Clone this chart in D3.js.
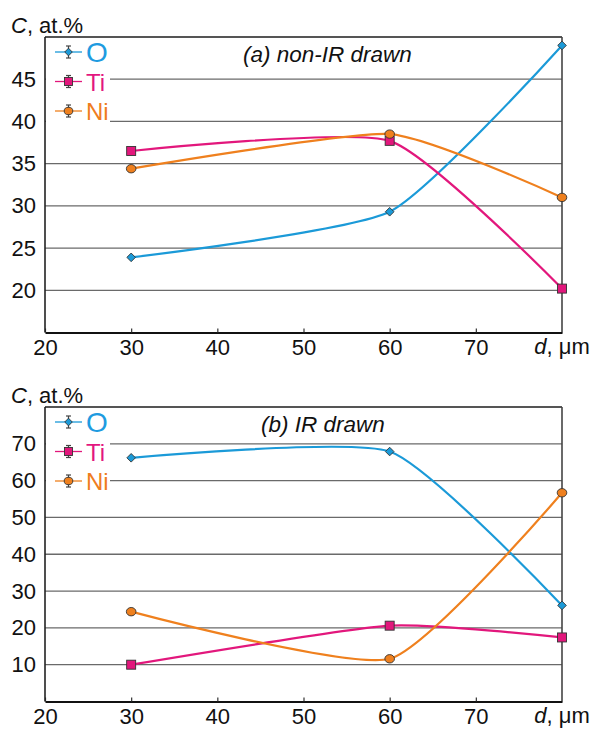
<!DOCTYPE html>
<html lang="en">
    <head>
        <meta charset="utf-8"/>
        <script src="https://d3js.org/d3.v7.min.js"></script>
        <style>
            body { margin: 0; background: #fff; }
            text { font-family: "Liberation Sans", Arial, sans-serif; }
        </style>
    </head>
    <body>
        <div id="chart"></div>
    </body>
    <script>
        // sample depths, d (um)
        var depths = [30, 60, 80];
        var xTicks = [20, 30, 40, 50, 60, 70];
        var seriesNames = ["O", "Ti", "Ni"];

        // (a) non-IR drawn, C at.%
        var oA  = [23.9, 29.3, 49.0];
        var tiA = [36.5, 37.7, 20.2];
        var niA = [34.4, 38.5, 31.0];
        var yTicksA = [20, 25, 30, 35, 40, 45];

        // (b) IR drawn, C at.%
        var oB  = [66.2, 67.9, 26.1];
        var tiB = [10.0, 20.6, 17.4];
        var niB = [24.4, 11.6, 56.7];
        var yTicksB = [10, 20, 30, 40, 50, 60, 70];

        var colors = { O: "#1b9ad8", Ti: "#e2177c", Ni: "#ef801e" };
        var labelColors = { O: "#1e9be0", Ti: "#e3177f", Ni: "#ef7d1e" };

        var W = 595, H = 729;
        var left = 45, right = 562;

        var svg = d3.select("#chart")
            .append("svg")
                .attr("width", W)
                .attr("height", H);

        var x = d3.scaleLinear()
            .domain([20, 80])
            .range([left, right]);

        function marker(g, name, cx, cy, s) {
            if (name === "O") {
                var h = s / 2 + 0.8;
                g.append("path")
                    .attr("d", "M" + cx + "," + (cy - h) + "L" + (cx + h) + "," + cy +
                               "L" + cx + "," + (cy + h) + "L" + (cx - h) + "," + cy + "Z")
                    .style("fill", colors.O)
                    .style("stroke", "#333")
                    .style("stroke-width", 0.9);
            } else if (name === "Ti") {
                g.append("rect")
                    .attr("x", cx - s / 2)
                    .attr("y", cy - s / 2)
                    .attr("width", s)
                    .attr("height", s)
                    .style("fill", colors.Ti)
                    .style("stroke", "#333")
                    .style("stroke-width", 0.9);
            } else {
                g.append("ellipse")
                    .attr("cx", cx)
                    .attr("cy", cy)
                    .attr("rx", s / 2 + 0.3)
                    .attr("ry", s / 2 - 0.3)
                    .style("fill", colors.Ni)
                    .style("stroke", "#333")
                    .style("stroke-width", 0.9);
            }
        }

        function drawPanel(top, bottom, yDomain, yTicks, series, title, titleX) {
            var y = d3.scaleLinear()
                .domain(yDomain)
                .range([bottom, top]);

            var g = svg.append("g");

            // gridlines
            g.selectAll(".grid")
                .data(yTicks)
                .enter()
                .append("line")
                    .attr("x1", left)
                    .attr("x2", right)
                    .attr("y1", function(d) { return y(d); })
                    .attr("y2", function(d) { return y(d); })
                    .style("stroke", "#6a6a6a")
                    .style("stroke-width", 1.3);

            // frame: top and right
            g.append("line")
                .attr("x1", left).attr("x2", right)
                .attr("y1", top).attr("y2", top)
                .style("stroke", "#555").style("stroke-width", 2);
            g.append("line")
                .attr("x1", right).attr("x2", right)
                .attr("y1", top).attr("y2", bottom)
                .style("stroke", "#444").style("stroke-width", 1.6);

            // y axis labels
            var yAxis = g.append("g")
                .attr("transform", "translate(" + left + ",0)")
                .call(d3.axisLeft(y).tickValues(yTicks).tickSize(0).tickPadding(9));
            yAxis.select(".domain").remove();
            yAxis.selectAll("text")
                .style("font-size", "22px")
                .style("font-family", "Liberation Sans, Arial, sans-serif")
                .style("fill", "#111");

            // x axis
            var xAxis = g.append("g")
                .attr("transform", "translate(0," + bottom + ")")
                .call(d3.axisBottom(x).tickValues(xTicks).tickSizeInner(-4).tickSizeOuter(0).tickPadding(6.5));
            xAxis.select(".domain").style("stroke", "#111").style("stroke-width", 1.8);
            xAxis.selectAll(".tick line").style("stroke", "#333").style("stroke-width", 1.2);
            xAxis.selectAll("text")
                .style("font-size", "22px")
                .style("font-family", "Liberation Sans, Arial, sans-serif")
                .style("fill", "#111");

            g.append("line")
                .attr("x1", left).attr("x2", left)
                .attr("y1", top).attr("y2", bottom)
                .style("stroke", "#222").style("stroke-width", 1.6);

            // x label at 80
            var xl = g.append("text")
                .attr("x", x(80))
                .attr("y", bottom + 21.5)
                .attr("text-anchor", "middle")
                .style("font-size", "22px")
                .style("fill", "#111");
            xl.append("tspan").style("font-style", "italic").text("d");
            xl.append("tspan").text(", \u03bcm");

            // y label
            var yl = g.append("text")
                .attr("x", 11)
                .attr("y", top - 4)
                .style("font-size", "22px")
                .style("fill", "#111");
            yl.append("tspan").style("font-style", "italic").text("C");
            yl.append("tspan").text(", at.%");

            // title
            g.append("text")
                .attr("x", titleX)
                .attr("y", top + 25)
                .style("font-size", "22.5px")
                .style("font-style", "italic")
                .style("fill", "#111")
                .text(title);

            // lines
            var line = d3.line()
                .x(function(d, i) { return x(depths[i]); })
                .y(function(d) { return y(d); })
                .curve(d3.curveCardinal.tension(0.45));

            seriesNames.forEach(function(name, k) {
                g.append("path")
                    .datum(series[k])
                    .attr("d", line)
                    .style("fill", "none")
                    .style("stroke", colors[name])
                    .style("stroke-width", 2.2);
            });
            seriesNames.forEach(function(name, k) {
                series[k].forEach(function(v, i) {
                    marker(g, name, x(depths[i]), y(v), name === "O" ? 7 : 9);
                });
            });

            // legend
            var leg = g.append("g");
            leg.append("rect")
                .attr("x", left + 1)
                .attr("y", top + 1.5)
                .attr("width", 64)
                .attr("height", 88)
                .style("fill", "#fff");
            seriesNames.forEach(function(name, k) {
                var ly = top + 15 + k * 29.5;
                leg.append("line")
                    .attr("x1", left + 10).attr("x2", left + 37)
                    .attr("y1", ly).attr("y2", ly)
                    .style("stroke", colors[name]).style("stroke-width", 1.3);
                leg.append("line")
                    .attr("x1", left + 23.5).attr("x2", left + 23.5)
                    .attr("y1", ly - 6).attr("y2", ly + 6)
                    .style("stroke", "#444").style("stroke-width", 1.2);
                leg.append("line")
                    .attr("x1", left + 21).attr("x2", left + 26)
                    .attr("y1", ly - 6).attr("y2", ly - 6)
                    .style("stroke", "#444").style("stroke-width", 1.2);
                leg.append("line")
                    .attr("x1", left + 21).attr("x2", left + 26)
                    .attr("y1", ly + 6).attr("y2", ly + 6)
                    .style("stroke", "#444").style("stroke-width", 1.2);
                marker(leg, name, left + 23.5, ly, name === "O" ? 6 : 8);
                leg.append("text")
                    .attr("x", left + 41)
                    .attr("y", ly + (name === "O" ? 10 : 9))
                    .style("font-size", name === "O" ? "28px" : "24px")
                    .style("fill", labelColors[name])
                    .text(name);
            });
        }

        drawPanel(37, 332.5, [15, 50], yTicksA, [oA, tiA, niA], "(a) non-IR drawn", 243);
        drawPanel(407, 701.5, [0, 80], yTicksB, [oB, tiB, niB], "(b) IR drawn", 261);
    </script>
</html>
